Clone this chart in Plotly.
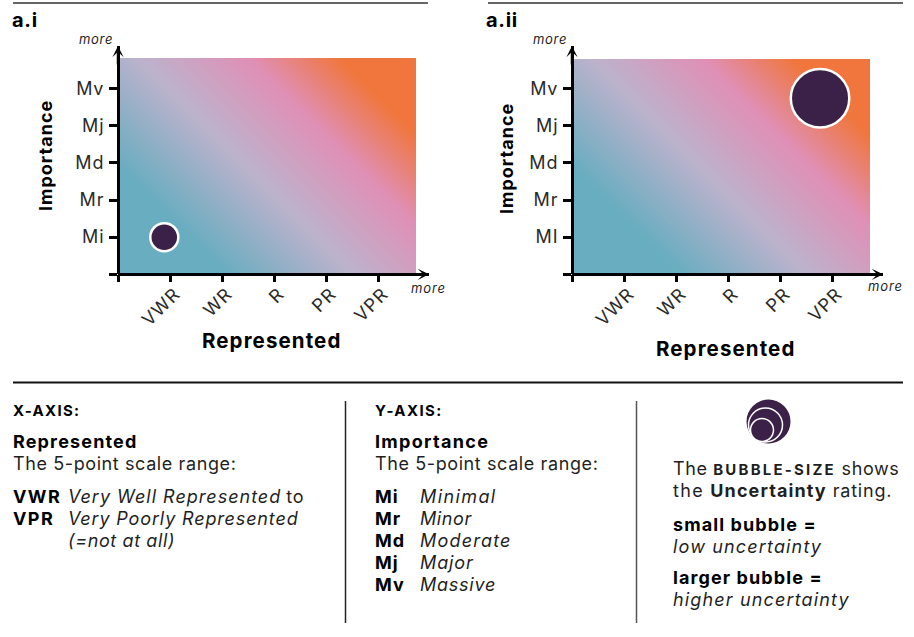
import plotly.graph_objects as go

FONT = "Inter"
INK = "#1f1f1f"
W, H = 914, 637

# ---- data ----
x_labels = ["VWR", "WR", "R", "PR", "VPR"]
y_labels_i = ["Mi", "Mr", "Md", "Mj", "Mv"]
y_labels_ii = ["MI", "Mr", "Md", "Mj", "Mv"]
scale_steps = [1, 2, 3, 4, 5]
bubble_i_x = [0.89]
bubble_i_y = [1.0]
bubble_i_size = [28]
bubble_ii_x = [4.77]
bubble_ii_y = [4.74]
bubble_ii_size = [58.5]

# gradient corners of the plot background, and its colour stops
gradient_z = [[0, 0.579], [0.421, 1]]
gradient_scale = [
    [0, "#69adc0"], [0.21, "#69adc0"], [0.46, "#bdb2cc"],
    [0.676, "#e08fb5"], [0.85, "#f0763d"], [1, "#f0763d"],
]

X_STEP, Y_STEP = 52.0, 37.15


def px(x):
    return x / W


def py(y):
    return 1 - y / H


def sp(s, ls):
    return f'<span style="letter-spacing:{ls}px">{s}</span>'


def R(s, ls=0.6):
    return sp(s, ls)


def I(s, ls=0.9):
    return sp(f"<i>{s}</i>", ls)


def B(s, ls=1.1):
    return sp(f"<b>{s}</b>", ls)


def CAPS(s, ls=1.4, size=15):
    return f'<span style="letter-spacing:{ls}px;font-size:{size}px"><b>{s}</b></span>'


fig = go.Figure()
layout_axes = {}
annotations = []
shapes = []


def text(x, y, s, size=18, anchor="left", color=INK, angle=None):
    a = dict(
        x=px(x), y=py(y), xref="paper", yref="paper", text=s, showarrow=False,
        xanchor=anchor, yanchor="middle", align=anchor,
        font=dict(family=FONT, size=size, color=color),
        borderpad=0, borderwidth=0,
    )
    if angle is not None:
        a["textangle"] = angle
    annotations.append(a)


def panel(idx, left, right_img, right_axis, top_img, top_axis, bottom, ylabels, bx, by, bs):
    g = 2 * idx - 1
    r = 2 * idx
    gs = "" if g == 1 else str(g)
    rs = str(r)
    fig.add_trace(go.Heatmap(
        x=[0, 1], y=[0, 1], z=gradient_z, zsmooth="best", zmin=0, zmax=1,
        colorscale=gradient_scale, showscale=False, hoverinfo="skip",
        xaxis="x" + gs, yaxis="y" + gs,
    ))
    layout_axes["xaxis" + gs] = dict(domain=[px(left + 1), px(right_img)], range=[0, 1], visible=False, anchor="y" + gs)
    layout_axes["yaxis" + gs] = dict(domain=[py(bottom), py(top_img)], range=[0, 1], visible=False, anchor="x" + gs)

    xmax = (right_axis - left) / X_STEP
    ymax = (bottom - top_axis) / Y_STEP
    fig.add_trace(go.Scatter(
        x=bx, y=by, mode="markers", xaxis="x" + rs, yaxis="y" + rs, cliponaxis=False,
        marker=dict(size=bs, color="#3b2147", opacity=1, line=dict(color="white", width=2.5)),
        showlegend=False,
    ))
    layout_axes["xaxis" + rs] = dict(
        domain=[px(left), px(right_axis)], range=[0, xmax], anchor="y" + rs,
        showline=False, showgrid=False, zeroline=True, zerolinecolor="black", zerolinewidth=2.7,
        ticks="outside", ticklen=7, tickwidth=2.5, tickcolor="black",
        tickvals=[0] + scale_steps, ticktext=[""] + [sp(t, 1.1) for t in x_labels], tickangle=-45,
        ticklabelstandoff=-6, ticklabelshift=5,
        tickfont=dict(family=FONT, size=18, color="#2b2b2b"),
        automargin=False,
    )
    layout_axes["yaxis" + rs] = dict(
        domain=[py(bottom), py(top_axis)], range=[0, ymax], anchor="x" + rs,
        showline=False, showgrid=False, zeroline=True, zerolinecolor="black", zerolinewidth=2.7,
        ticks="outside", ticklen=8, tickwidth=2.5, tickcolor="black",
        tickvals=[0] + scale_steps, ticktext=[""] + [sp(t, 0.9) for t in ylabels],
        ticklabelstandoff=1,
        tickfont=dict(family=FONT, size=18, color="#2b2b2b"),
        automargin=False,
    )
    common = dict(text="", showarrow=True, arrowhead=3, arrowsize=0.75, arrowwidth=2.5, arrowcolor="black",
                  axref="pixel", ayref="pixel", xref="x" + rs, yref="y" + rs)
    annotations.append(dict(x=xmax, y=0, ax=-20, ay=0, **common))
    annotations.append(dict(x=0, y=ymax, ax=0, ay=20, **common))


panel(1, 118, 416, 429, 58, 46, 274.3, y_labels_i, bubble_i_x, bubble_i_y, bubble_i_size)
panel(2, 572, 870, 883, 59, 46, 274.3, y_labels_ii, bubble_ii_x, bubble_ii_y, bubble_ii_size)

# axis titles
text(271, 340, sp("<b>Represented</b>", 1.1), 20.5, anchor="center", color="black")
text(725, 348.5, sp("<b>Represented</b>", 1.1), 20.5, anchor="center", color="black")
text(45, 156, sp("<b>Importance</b>", 1), 18, anchor="center", color="black", angle=-90)
text(507, 158, sp("<b>Importance</b>", 1), 18, anchor="center", color="black", angle=-90)

# panel captions and "more" hints
text(12, 19.5, sp("<b>a.i</b>", 0.7), 20, color="black")
text(486, 19.5, sp("<b>a.ii</b>", 0.7), 20, color="black")
text(79, 39, sp("<i>more</i>", 0.7), 13)
text(411, 287.5, sp("<i>more</i>", 0.9), 13)
text(533, 39, sp("<i>more</i>", 0.7), 13)
text(868, 285.5, sp("<i>more</i>", 0.9), 13)

# legend column 1
x_rows = [("VWR", I("Very Well Represented", 1.0) + " " + R("to"), 496),
          ("VPR", I("Very Poorly Represented", 0.85), 518),
          ("", I("(=not at all)", 0.6), 540)]
text(13, 410, CAPS("X-AXIS:", 1.3), 15, color="black")
text(13, 441, B("Represented", 1.15), color="black")
text(13, 463, R("The 5-point scale range:"))
for lab, desc, y in x_rows:
    if lab:
        text(13, y, B(lab, 1.4), color="black")
    text(68, y, desc)

# legend column 2
y_rows = [("Mi", "Minimal", 1.4, 496), ("Mr", "Minor", 0.6, 518), ("Md", "Moderate", 1.2, 540),
          ("Mj", "Major", 0.9, 562), ("Mv", "Massive", 0.75, 584)]
text(375, 410, CAPS("Y-AXIS:", 1.4), 15, color="black")
text(375, 441, B("Importance", 1.3), color="black")
text(375, 463, R("The 5-point scale range:"))
for lab, desc, ls, y in y_rows:
    text(375, y, B(lab), color="black")
    text(420, y, I(desc, ls))

# legend column 3
text(673, 468, R("The ") + CAPS("BUBBLE-SIZE", 2.2) + R(" shows"))
text(673, 490, R("the ", 1.3) + B("Uncertainty") + R(" rating.", 0.8))
text(673, 524, B("small bubble ="), color="black")
text(673, 546, I("low uncertainty", 1.15))
text(673, 577, B("larger bubble ="), color="black")
text(673, 599, I("higher uncertainty", 1.15))


def line(x0, y0, x1, y1, color, width):
    shapes.append(dict(type="line", xref="paper", yref="paper", x0=px(x0), x1=px(x1), y0=py(y0), y1=py(y1),
                       line=dict(color=color, width=width)))


def circle(cx, cy, r, fill, edge, width):
    shapes.append(dict(type="circle", xref="paper", yref="paper", x0=px(cx - r), x1=px(cx + r),
                       y0=py(cy + r), y1=py(cy - r), fillcolor=fill, line=dict(color=edge, width=width)))


line(13, 3, 428, 3, "#333333", 1.5)
line(488, 3, 903, 3, "#333333", 1.5)
line(13, 382.5, 903, 382.5, "#111111", 2)
line(345.5, 401, 345.5, 623, "#222222", 1.5)
line(636.5, 401, 636.5, 623, "#555555", 1.5)
circle(768.5, 421.5, 22, "#3b2147", "#3b2147", 0)
circle(765.5, 425, 17, "#3b2147", "white", 1.5)
circle(762, 430, 11.5, "#3b2147", "white", 1.5)

fig.update_layout(
    width=W, height=H, margin=dict(l=0, r=0, t=0, b=0), autosize=False,
    paper_bgcolor="white", plot_bgcolor="rgba(0,0,0,0)", showlegend=False,
    font=dict(family=FONT, color=INK), annotations=annotations, shapes=shapes,
    **layout_axes,
)
fig.write_html("out.html", config={"displayModeBar": False},
               post_script="document.body.style.margin='0';document.body.style.overflow='hidden';")
